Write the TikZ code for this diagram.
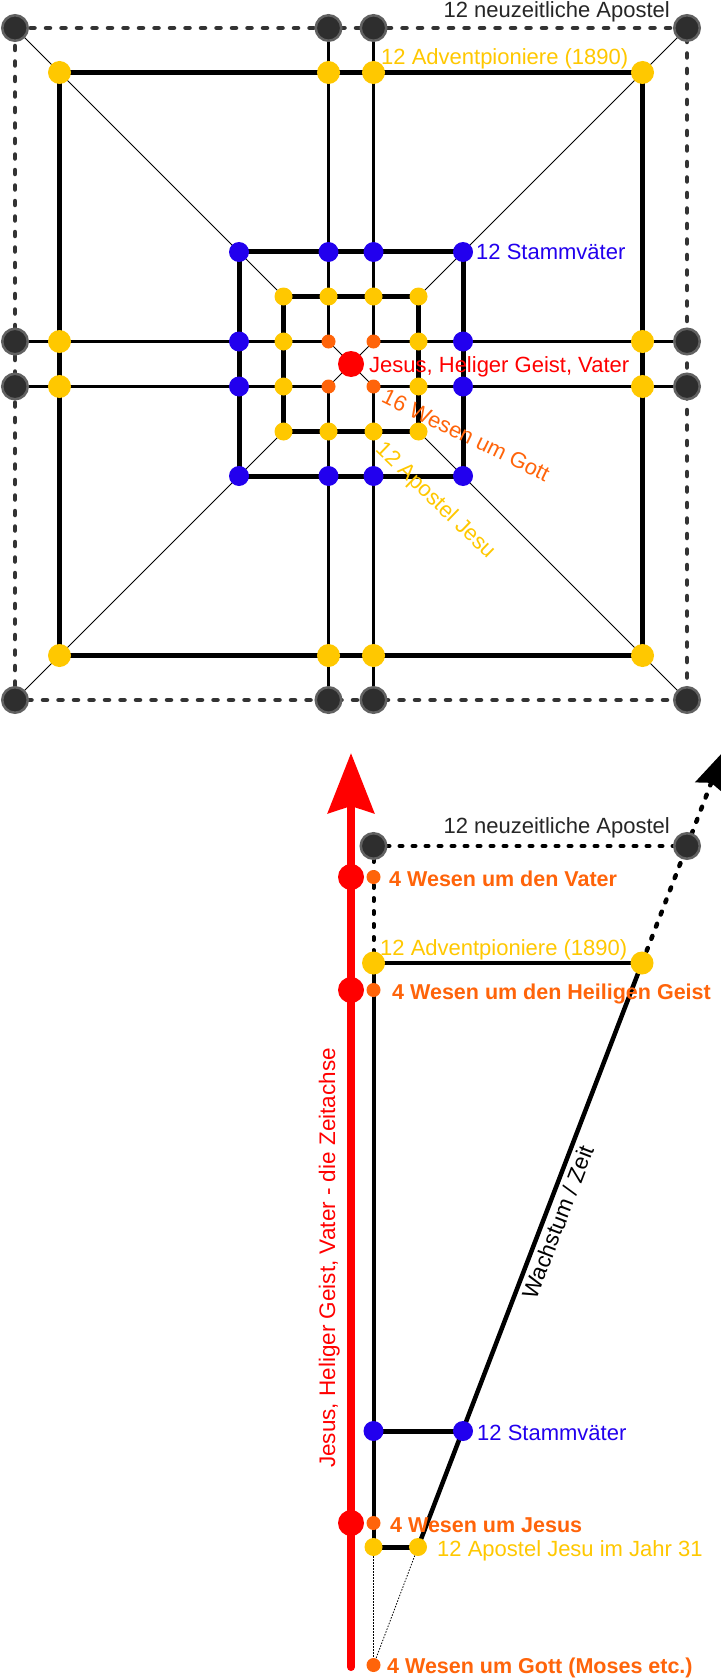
\documentclass[tikz,border=0pt]{standalone}
\usepackage{fontspec}
\setmainfont{Liberation Sans}
\usetikzlibrary{arrows.meta}
\pgfdeclarelayer{back}
\pgfdeclarelayer{bg}
\pgfsetlayers{back,bg,main}
\definecolor{cyel}{RGB}{255,200,0}
\definecolor{corg}{RGB}{255,100,10}
\definecolor{cblu}{RGB}{34,0,238}
\definecolor{cred}{RGB}{255,0,0}
\definecolor{cgry}{RGB}{51,51,51}
\tikzset{
  dot/.style={circle, inner sep=0pt, minimum size=#1},
  blk/.style={dot=25.5pt, fill=black!82, draw=black!62, line width=2.5pt},
  yel/.style={dot=23pt, fill=cyel},
  blu/.style={dot=20pt, fill=cblu},
  apo/.style={dot=18pt, fill=cyel},
  org/.style={dot=14pt, fill=corg},
  rdd/.style={dot=26pt, fill=cred},
  heavy/.style={line width=5pt, black},
  midline/.style={line width=2.8pt, black},
  hair/.style={line width=0.9pt, black},
  gdash/.style={line width=4.5pt, cgry, dash pattern=on 4pt off 11.5pt, line cap=round},
  kdash/.style={line width=4pt, black, dash pattern=on 3pt off 10pt, line cap=round},
  fine/.style={line width=0.8pt, black, dash pattern=on 1.5pt off 1.5pt},
  lab/.style={font=\fontsize{22}{24}\selectfont, inner sep=0pt},
  olab/.style={font=\fontsize{21.5}{24}\selectfont\bfseries, inner sep=0pt, text=corg},
}
\begin{document}
\begin{tikzpicture}[x=1pt,y=-1pt]
\useasboundingbox (0,0) rectangle (720,1680);
\begin{pgfonlayer}{back}
\fill[white] (0,0) rectangle (720,1680);
\end{pgfonlayer}
% ---------- top diagram: dots ----------
\foreach \p/\a/\s in {B/336/blk, Y/291.5/yel, S/112/blu, A/67.5/apo}{
  \node[\s] (\p-tl) at ({351-\a},{364-\a}) {};
  \node[\s] (\p-tr) at ({351+\a},{364-\a}) {};
  \node[\s] (\p-bl) at ({351-\a},{364+\a}) {};
  \node[\s] (\p-br) at ({351+\a},{364+\a}) {};
  \node[\s] (\p-t1) at (328.5,{364-\a}) {};
  \node[\s] (\p-t2) at (373.5,{364-\a}) {};
  \node[\s] (\p-b1) at (328.5,{364+\a}) {};
  \node[\s] (\p-b2) at (373.5,{364+\a}) {};
  \node[\s] (\p-l1) at ({351-\a},341.5) {};
  \node[\s] (\p-l2) at ({351-\a},386.5) {};
  \node[\s] (\p-r1) at ({351+\a},341.5) {};
  \node[\s] (\p-r2) at ({351+\a},386.5) {};
}
\node[org] (O1) at (328.5,341.5) {};
\node[org] (O2) at (373.5,341.5) {};
\node[org] (O3) at (328.5,386.5) {};
\node[org] (O4) at (373.5,386.5) {};
\node[rdd] (R) at (351,364) {};
% ---------- top diagram: lines ----------
\begin{pgfonlayer}{bg}
\draw[gdash] (B-tl.center) -- (B-tr.center) -- (B-br.center) -- (B-bl.center) -- cycle;
\foreach \a/\b in {B-t1/O1, B-t2/O2, B-b1/O3, B-b2/O4, B-l1/O1, B-l2/O3, B-r1/O2, B-r2/O4}
  \draw[midline] (\a.center) -- (\b.center);
\foreach \c in {tl,tr,bl,br}
  \draw[hair] (B-\c.center) -- (A-\c.center);
\foreach \o in {O1,O2,O3,O4}
  \draw[hair] (\o.center) -- (R.center);
\foreach \p in {Y,S,A}
  \draw[heavy] (\p-tl.center) -- (\p-tr.center) -- (\p-br.center) -- (\p-bl.center) -- cycle;
\end{pgfonlayer}
% ---------- top labels ----------
\node[lab, text=black!85, anchor=base east] (tNeu) at (670,18) {12 neuzeitliche Apostel};
\node[lab, text=cyel, anchor=base west] (tAdv) at (381,65) {12 Adventpioniere (1890)};
\node[lab, text=cblu, anchor=base west] (tSta) at (476,260) {12 Stammväter};
\node[lab, text=cred, anchor=base west] (tJes) at (369,372) {Jesus, Heliger Geist, Vater};
\node[lab, text=corg, rotate=-26] (t16) at (466,435) {16 Wesen um Gott};
\node[lab, text=cyel, rotate=-44] (t12A) at (435,501) {12 Apostel Jesu};
% ---------- bottom diagram: dots ----------
\coordinate (axb) at (351,1667);
\coordinate (axt) at (351,753);
\coordinate (gt) at (723,752);
\node[blk] (Lk1) at (373.5,846) {};
\node[blk] (Lk2) at (687,846) {};
\node[yel] (Ly1) at (373.5,963) {};
\node[yel] (Ly2) at (642,963) {};
\node[blu] (Ls1) at (373.5,1431) {};
\node[blu] (Ls2) at (463,1431) {};
\node[apo] (La1) at (373.5,1547) {};
\node[apo] (La2) at (418,1547) {};
\node[org] (Lo1) at (373.5,877) {};
\node[org] (Lo2) at (373.5,990) {};
\node[org] (Lo3) at (373.5,1523) {};
\node[org] (Lo4) at (373.5,1665) {};
\node[rdd] (Lr1) at (351,877) {};
\node[rdd] (Lr2) at (351,990) {};
\node[rdd] (Lr3) at (351,1523) {};
% ---------- bottom diagram: lines ----------
\begin{pgfonlayer}{bg}
\draw[cred, line width=8pt, line cap=round, -{Stealth[length=60pt,width=46pt,inset=7pt]}] (axb) -- (axt);
\draw[kdash] (Lk1.center) -- (Lk2.center);
\draw[kdash] (Lk1.center) -- (Ly1.center);
\draw[line width=4pt] (Ly1.center) -- (La1.center);
\draw[line width=4pt] (Ly1.center) -- (Ly2.center);
\draw[heavy] (Ls1.center) -- (Ls2.center);
\draw[heavy] (La1.center) -- (La2.center);
\draw[line width=4.5pt] (La2.center) -- (Ly2.center);
\draw[kdash, line width=4.5pt] (Ly2.center) -- (Lk2.center);
\draw[kdash, line width=4.5pt, -{Stealth[length=38pt,width=30pt,inset=5pt]}] (Lk2.center) -- (gt);
\draw[fine] (La1.center) -- (Lo4.center);
\draw[fine] (La2.center) -- (Lo4.center);
\end{pgfonlayer}
% ---------- bottom labels ----------
\node[lab, text=black!85, anchor=base east] (bNeu) at (670,833) {12 neuzeitliche Apostel};
\node[olab, anchor=base west] (bVat) at (389,886) {4 Wesen um den Vater};
\node[lab, text=cyel, anchor=base west] (bAdv) at (380,955) {12 Adventpioniere (1890)};
\node[olab, anchor=base west] (bGei) at (392,999) {4 Wesen um den Heiligen Geist};
\node[lab, text=cblu, anchor=base west] (bSta) at (477,1440) {12 Stammväter};
\node[olab, anchor=base west] (bJes) at (390,1532) {4 Wesen um Jesus};
\node[lab, text=cyel, anchor=base west] (bApo) at (437,1556) {12 Apostel Jesu im Jahr 31};
\node[olab, anchor=base west] (bGot) at (387,1673) {4 Wesen um Gott (Moses etc.)};
\node[lab, font=\fontsize{22.5}{24}\selectfont, text=cred, rotate=90, anchor=base] (bAxis) at (335,1258) {Jesus, Heliger Geist, Vater - die Zeitachse};
\node[lab, font=\fontsize{22.5}{24}\selectfont, rotate=69] (bWach) at (558,1222) {Wachstum / Zeit};
\end{tikzpicture}
\end{document}
